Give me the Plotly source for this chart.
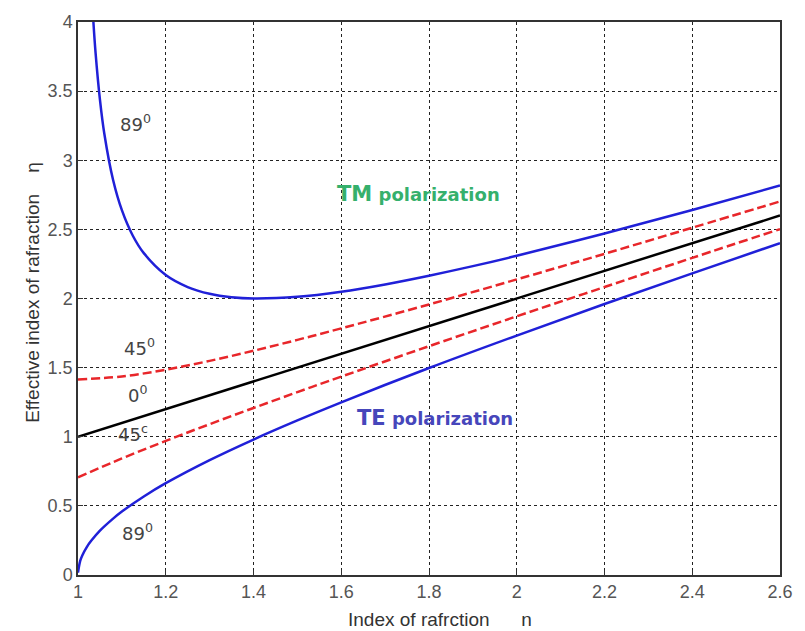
import plotly.graph_objects as go

# Index of refraction n (x) samples and effective index eta (y)
n_tm89 = [1.03, 1.035, 1.04, 1.05, 1.06, 1.08, 1.1, 1.125, 1.15, 1.2, 1.25, 1.3, 1.35, 1.4, 1.5, 1.6, 1.7, 1.8, 1.9, 2.0, 2.2, 2.4, 2.6]
eta_tm89 = [4.288, 4.005, 3.779, 3.439, 3.192, 2.857, 2.639, 2.454, 2.328, 2.170, 2.083, 2.034, 2.009, 2.000, 2.012, 2.049, 2.102, 2.165, 2.234, 2.309, 2.470, 2.640, 2.817]

n_te89 = [1.0, 1.005, 1.01, 1.02, 1.03, 1.05, 1.08, 1.1, 1.15, 1.2, 1.3, 1.4, 1.5, 1.6, 1.8, 2.0, 2.2, 2.4, 2.6]
eta_te89 = [0.017, 0.102, 0.143, 0.202, 0.247, 0.321, 0.408, 0.459, 0.568, 0.664, 0.831, 0.980, 1.118, 1.249, 1.497, 1.732, 1.960, 2.182, 2.400]

n_45 = [1.0, 1.1, 1.2, 1.3, 1.4, 1.5, 1.6, 1.8, 2.0, 2.2, 2.4, 2.6]
eta_tm45 = [1.414, 1.436, 1.485, 1.549, 1.622, 1.701, 1.784, 1.957, 2.138, 2.323, 2.512, 2.702]
eta_te45 = [0.707, 0.843, 0.970, 1.091, 1.208, 1.323, 1.435, 1.655, 1.871, 2.083, 2.294, 2.502]

n_0 = [1.0, 2.6]
eta_0 = [1.0, 2.6]

x_ticks = [1, 1.2, 1.4, 1.6, 1.8, 2, 2.2, 2.4, 2.6]
x_tick_labels = ["1", "1.2", "1.4", "1.6", "1.8", "2", "2.2", "2.4", "2.6"]
y_ticks = [0, 0.5, 1, 1.5, 2, 2.5, 3, 3.5, 4]
y_tick_labels = ["0", "0.5", "1", "1.5", "2", "2.5", "3", "3.5", "4"]

angle_labels = ["89<sup>0</sup>", "45<sup>0</sup>", "0<sup>0</sup>", "45<sup>c</sup>", "89<sup>0</sup>"]
angle_x = [1.13, 1.14, 1.135, 1.125, 1.135]
angle_y = [3.27, 1.65, 1.31, 1.03, 0.31]

BLUE = "#2020d8"
RED = "#e8262a"

fig = go.Figure()
fig.add_trace(go.Scatter(x=n_tm89, y=eta_tm89, mode="lines", line=dict(color=BLUE, width=2.5, shape="spline"), showlegend=False))
fig.add_trace(go.Scatter(x=n_te89, y=eta_te89, mode="lines", line=dict(color=BLUE, width=2.5, shape="spline"), showlegend=False))
fig.add_trace(go.Scatter(x=n_45, y=eta_tm45, mode="lines", line=dict(color=RED, width=2.5, dash="9px,4px", shape="spline"), showlegend=False))
fig.add_trace(go.Scatter(x=n_45, y=eta_te45, mode="lines", line=dict(color=RED, width=2.5, dash="9px,4px", shape="spline"), showlegend=False))
fig.add_trace(go.Scatter(x=n_0, y=eta_0, mode="lines", line=dict(color="black", width=2.5), showlegend=False))

for lab, ax_, ay_ in zip(angle_labels, angle_x, angle_y):
    fig.add_annotation(x=ax_, y=ay_, text=lab, showarrow=False,
                       font=dict(family="DejaVu Sans", size=18, color="#444444"))

fig.add_annotation(x=1.776, y=2.755, showarrow=False,
                   text="<b><span style='font-size:21px'>TM</span> polarization</b>",
                   font=dict(family="DejaVu Sans", size=18, color="#35b06c"))
fig.add_annotation(x=1.814, y=1.138, showarrow=False,
                   text="<b><span style='font-size:21px'>TE</span> polarization</b>",
                   font=dict(family="DejaVu Sans", size=18, color="#4646bb"))

fig.add_annotation(xref="paper", yref="paper", x=0.516, y=-0.08, yanchor="middle",
                   text="Index of rafrction &nbsp;&nbsp;&nbsp;&nbsp; n", showarrow=False,
                   font=dict(family="Liberation Sans", size=19, color="#333333"))
fig.add_annotation(xref="paper", yref="paper", x=-0.082, y=0.512, textangle=-90,
                   text="Effective index of rafraction &nbsp;&nbsp; η", showarrow=False,
                   font=dict(family="Liberation Sans", size=19, color="#333333"))

axis_common = dict(showgrid=True, gridcolor="#222222", gridwidth=1, griddash="dot",
                   showline=True, linecolor="#333333", linewidth=1.5, mirror=True,
                   ticks="inside", ticklen=5, tickcolor="#333333", zeroline=False,
                   tickfont=dict(family="Liberation Sans", size=18, color="#555555"))

fig.update_xaxes(range=[1, 2.6], tickvals=x_ticks, ticktext=x_tick_labels, **axis_common)
fig.update_yaxes(range=[0, 4], tickvals=y_ticks, ticktext=y_tick_labels, **axis_common)

fig.update_layout(width=805, height=631, margin=dict(l=78, r=19, t=19, b=56),
                  plot_bgcolor="white", paper_bgcolor="white")

fig.write_html("out.html", config={"displayModeBar": False},
               post_script="document.body.style.margin='0';document.body.style.overflow='hidden';")
